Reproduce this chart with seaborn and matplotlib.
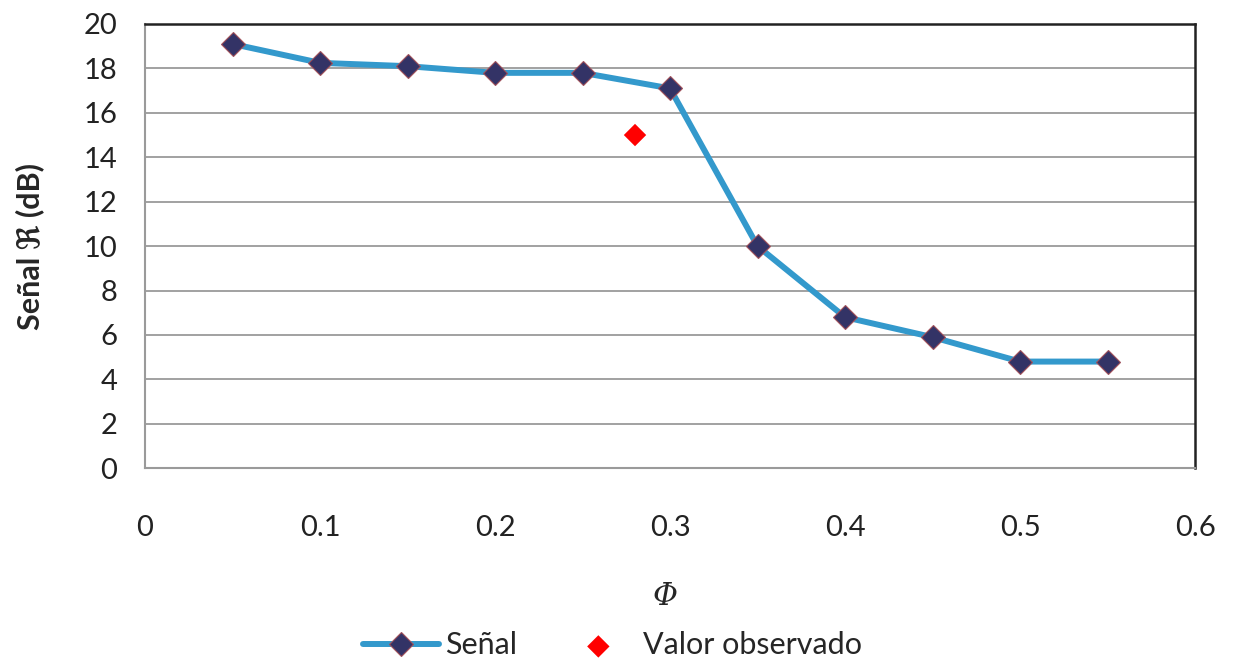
import matplotlib
matplotlib.use("Agg")
import matplotlib.pyplot as plt
import seaborn as sns
import pandas as pd

# Signal level versus volume fraction
phi = [0.05, 0.10, 0.15, 0.20, 0.25, 0.30, 0.35, 0.40, 0.45, 0.50, 0.55]
senal = [19.1, 18.25, 18.1, 17.8, 17.8, 17.1, 10.0, 6.8, 5.9, 4.8, 4.8]

# Observed value
phi_obs = [0.28]
valor_obs = [15.0]

sns.set_theme(style="white")
plt.rcParams["font.family"] = ["Lato", "DejaVu Sans"]

df = pd.DataFrame({"phi": phi, "senal": senal})
df_obs = pd.DataFrame({"phi": phi_obs, "valor": valor_obs})

fig = plt.figure(figsize=(12.33, 6.66), dpi=100)
ax = fig.add_axes([0.1176, 0.297, 0.8516, 0.667])

sns.lineplot(data=df, x="phi", y="senal", ax=ax, color="#3399CC", linewidth=4.3,
             marker="D", markersize=12, markerfacecolor="#333366",
             markeredgecolor="#A0505A", markeredgewidth=0.8, label="Señal", zorder=3)
sns.scatterplot(data=df_obs, x="phi", y="valor", ax=ax, color="#FF0000", marker="D",
                s=130, edgecolor="none", label="Valor observado", zorder=4)

ax.set_xlim(0, 0.6)
ax.set_ylim(0, 20)
ax.set_xticks([0, 0.1, 0.2, 0.3, 0.4, 0.5, 0.6])
ax.set_xticklabels(["0", "0.1", "0.2", "0.3", "0.4", "0.5", "0.6"])
ax.set_yticks(range(0, 21, 2))
ax.tick_params(axis="both", labelsize=21, colors="#222222", length=0)
ax.tick_params(axis="y", pad=20)
ax.tick_params(axis="x", pad=34)
ax.grid(axis="y", color="#9A9A9A", linewidth=1.3)
ax.set_axisbelow(True)

for side in ["left", "bottom"]:
    ax.spines[side].set_color("#9A9A9A")
    ax.spines[side].set_linewidth(1.5)
for side in ["top", "right"]:
    ax.spines[side].set_color("#222222")
    ax.spines[side].set_linewidth(1.8)

ax.set_xlabel("Φ", fontsize=22, fontstyle="italic", family=["DejaVu Serif"])
ax.xaxis.set_label_coords(0.495, -0.255)
ax.set_ylabel("Señal ℜ (dB)", fontsize=22, fontweight="bold",
              family=["Lato", "DejaVu Sans"])
ax.yaxis.set_label_coords(-0.096, 0.5)

leg = ax.legend(loc="center", bbox_to_anchor=(0.445, -0.399), ncol=2,
                frameon=False, fontsize=22, handlelength=2.5, columnspacing=1.4,
                handletextpad=0.2)

fig.savefig("out.png", dpi=100, facecolor="white")
